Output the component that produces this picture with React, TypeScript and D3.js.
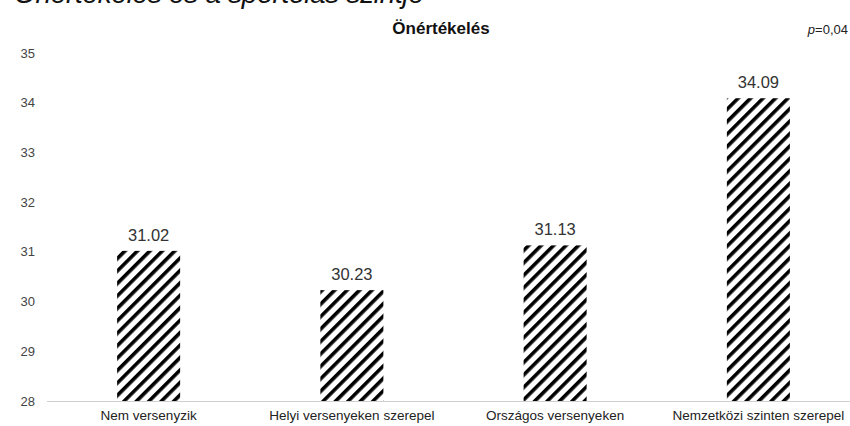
import React from "react";
import { scaleBand, scaleLinear, range } from "d3";

const categories = [
  "Nem versenyzik",
  "Helyi versenyeken szerepel",
  "Országos versenyeken",
  "Nemzetközi szinten szerepel",
];
const values = [31.02, 30.23, 31.13, 34.09];
const yTicks = range(28, 36, 1);

const W = 850;
const H = 426;
const margin = { top: 53, right: -10, bottom: 25, left: 47 };

export default function App() {
  const x = scaleBand<string>()
    .domain(categories)
    .range([margin.left, W - margin.right])
    .paddingInner(0.69)
    .paddingOuter(0.345);
  const y = scaleLinear()
    .domain([28, 35])
    .range([H - margin.bottom, margin.top]);

  const font = "'Liberation Sans', Arial, sans-serif";

  return (
    <div style={{ position: "absolute", left: 0, top: 0 }}>
      <svg width={W} height={H} style={{ display: "block", background: "#fff" }}>
        <defs>
          <pattern
            id="hatch"
            patternUnits="userSpaceOnUse"
            width={8.8}
            height={8.8}
            patternTransform="rotate(45)"
          >
            <rect x={0} y={0} width={3.6} height={8.8} fill="#000" />
          </pattern>
        </defs>

        {/* heading above the chart, mostly outside the frame */}
        <text
          x={14}
          y={3}
          fontFamily={font}
          fontStyle="italic"
          fontSize={28}
          textLength={410}
          lengthAdjust="spacing"
          fill="#111"
        >
          Önértékelés és a sportolás szintje
        </text>

        <text
          x={441}
          y={34}
          textAnchor="middle"
          fontFamily={font}
          fontWeight="bold"
          fontSize={17}
          fill="#111"
        >
          Önértékelés
        </text>
        <text x={848} y={34} textAnchor="end" fontFamily={font} fontSize={13} fill="#222">
          <tspan fontStyle="italic">p</tspan>=0,04
        </text>

        {/* y axis labels */}
        {yTicks.map((t) => (
          <text
            key={t}
            x={35}
            y={y(t)}
            dy="0.35em"
            textAnchor="end"
            fontFamily={font}
            fontSize={13}
            fill="#444"
          >
            {t}
          </text>
        ))}

        {/* bars */}
        {categories.map((c, i) => (
          <rect
            key={c}
            x={x(c)!}
            y={y(values[i])}
            width={x.bandwidth()}
            height={y(28) - y(values[i])}
            fill="url(#hatch)"
          />
        ))}

        {/* value labels */}
        {categories.map((c, i) => (
          <text
            key={c}
            x={x(c)! + x.bandwidth() / 2}
            y={y(values[i]) - 10}
            textAnchor="middle"
            fontFamily={font}
            fontSize={16.5}
            fill="#333"
          >
            {values[i].toFixed(2)}
          </text>
        ))}

        {/* baseline */}
        <line
          x1={margin.left}
          x2={W}
          y1={y(28) + 0.5}
          y2={y(28) + 0.5}
          stroke="#cfcfcf"
          strokeWidth={1}
        />

        {/* category labels */}
        {categories.map((c) => (
          <text
            key={c}
            x={x(c)! + x.bandwidth() / 2}
            y={H - 6}
            textAnchor="middle"
            fontFamily={font}
            fontSize={13.5}
            fill="#222"
          >
            {c}
          </text>
        ))}
      </svg>
    </div>
  );
}
